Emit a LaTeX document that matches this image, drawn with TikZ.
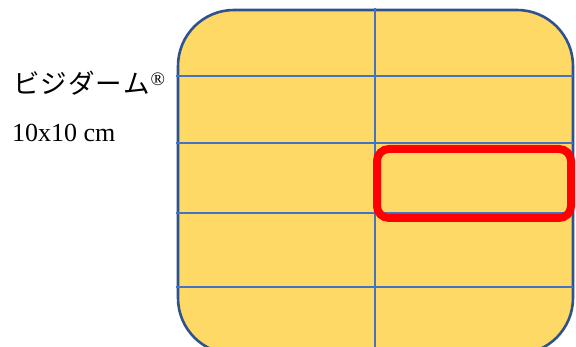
\documentclass[tikz,border=0pt]{standalone}
\usepackage{fontspec}
\setmainfont{Liberation Serif}
\newfontfamily\jp{Noto Sans CJK JP}
\definecolor{gold}{HTML}{FFD966}
\definecolor{outl}{HTML}{2F528F}
\definecolor{gridb}{HTML}{4472C4}
\definecolor{hred}{HTML}{FF0000}
\tikzset{
  panel/.style={draw=outl, line width=2.6pt, fill=gold, rounded corners=56pt},
  gridline/.style={draw=gridb, line width=2pt},
  highlight/.style={draw=hred, line width=8pt, rounded corners=12pt},
  label/.style={inner sep=0pt, anchor=base west, font=\fontsize{26}{26}\selectfont}
}
\begin{document}
\begin{tikzpicture}[x=1pt,y=-1pt]
\useasboundingbox (0,0) rectangle (576,347);
\begin{scope}
\clip (0,0) rectangle (576,347);
\path[panel] (178,10) rectangle (573,354);
\coordinate (vt) at (375,8);
\coordinate (vb) at (375,350);
\draw[gridline] (vt) -- (vb);
\foreach \y/\n in {76/a,143/b,213/c,287/d}{
  \coordinate (hl\n) at (176,\y);
  \coordinate (hr\n) at (573,\y);
  \draw[gridline] (hl\n) -- (hr\n);
}
\coordinate (r1) at (377,149);
\coordinate (r2) at (571,218);
\draw[highlight] (r1) rectangle (r2);
\end{scope}
\node[label] (name) at (13,94) {{\jp\fontsize{26.5}{26.5}\selectfont ビ\kern1pt ジ\kern1pt ダ\kern1pt ー\kern1pt ム}\kern1pt\raisebox{0.33em}{\fontsize{19}{19}\selectfont ®}};
\node[label] (size) at (12,142) {10x10 cm};
\end{tikzpicture}
\end{document}
